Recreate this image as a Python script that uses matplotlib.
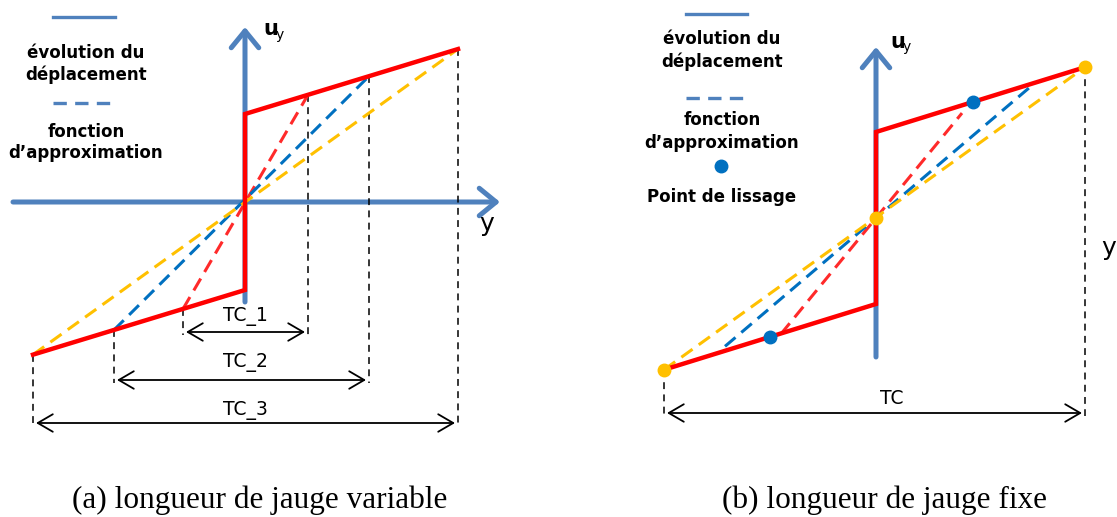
import matplotlib
matplotlib.use('Agg')
import matplotlib.pyplot as plt
import numpy as np

W, H = 1117, 517

# colours
axis_blue = '#4f81bd'
red = '#ff0000'
approx_colors = ['#ff2a2a', '#0070c0', '#ffc000']

# panel (a) : longueur de jauge variable
jump_a = 88            # saut de deplacement a la fissure
slope_a = 0.305        # pente des branches rouges
gauge_left_a = [62, 131, 212]
gauge_right_a = [63, 124, 213]
tc_levels_a = [-130, -178, -221]
tc_label_levels_a = [-115, -161, -208]
tc_labels_a = ['TC_1', 'TC_2', 'TC_3']

# panel (b) : longueur de jauge fixe
jump_b = 86
slope_b = 0.31
gauge_b = [-212, 209]
approx_slopes_b = [1.22, 0.85, None]
approx_ranges_b = [(-95, 86), (-151, 155), (-212, 209)]
fit_points_b = [-106, 97]
tc_level_b = -195

legend_a = ['évolution du', 'déplacement', 'fonction', 'd’approximation']
legend_b = ['évolution du', 'déplacement', 'fonction', 'd’approximation', 'Point de lissage']
captions = ['(a) longueur de jauge variable', '(b) longueur de jauge fixe']


def disp(x, jump, slope):
    x = np.asarray(x, dtype=float)
    return np.sign(x) * (jump + slope * np.abs(x))


fig = plt.figure(figsize=(W / 100, H / 100), dpi=100)

# base axes in pixel coordinates for legend and captions
base = fig.add_axes([0, 0, 1, 1])
base.set_xlim(0, W)
base.set_ylim(H, 0)
base.axis('off')


def panel_axes(ox, oy):
    ax = fig.add_axes([0, 0, 1, 1])
    ax.set_xlim(-ox, W - ox)
    ax.set_ylim(oy - H, oy)
    ax.axis('off')
    ax.patch.set_alpha(0)
    return ax


def draw_axes(ax, xr, yr):
    kw = dict(arrowstyle='->,head_length=0.55,head_width=0.45', color=axis_blue,
              lw=3.6, mutation_scale=22, shrinkA=0, shrinkB=0)
    ax.annotate('', xy=(xr[1], 0), xytext=(xr[0], 0), arrowprops=kw, zorder=1)
    ax.annotate('', xy=(0, yr[1]), xytext=(0, yr[0]), arrowprops=kw, zorder=1)


def black_dash(ax, x, y0, y1):
    ax.plot([x, x], [y0, y1], color='black', lw=1.1, dashes=(4.5, 3.5), zorder=2)


def dim_arrow(ax, x0, x1, y):
    ax.annotate('', xy=(x1, y), xytext=(x0, y),
                arrowprops=dict(arrowstyle='<->,head_length=0.6,head_width=0.35',
                                color='black', lw=1.3, mutation_scale=18,
                                shrinkA=0, shrinkB=0))


# ---------- panel (a)
ax = panel_axes(245, 202)
draw_axes(ax, (-232, 255), (-100, 175))
ax.plot([-212, 0, 0, 213], [disp(-212, jump_a, slope_a), -jump_a, jump_a, disp(213, jump_a, slope_a)],
        color=red, lw=3.2, solid_joinstyle='miter', zorder=4)
for gl, gr, c, lev, llev, lab in zip(gauge_left_a, gauge_right_a, approx_colors,
                                     tc_levels_a, tc_label_levels_a, tc_labels_a):
    ax.plot([-gl, gr], [disp(-gl, jump_a, slope_a), disp(gr, jump_a, slope_a)],
            color=c, lw=2.2, dashes=(4.5, 2.5), zorder=3)
    black_dash(ax, -gl, disp(-gl, jump_a, slope_a), lev - 3)
    black_dash(ax, gr, disp(gr, jump_a, slope_a), lev - 3)
    dim_arrow(ax, -gl + 3, gr - 3, lev)
    ax.text(0, llev, lab, ha='center', va='center', fontsize=13.5, family='DejaVu Sans')
ax.text(18, 173, 'u', fontsize=15, fontweight='bold', ha='left', va='center')
ax.text(31, 167, 'y', fontsize=10, ha='left', va='center')
ax.text(242, -22, 'y', fontsize=18, ha='center', va='center')

# ---------- panel (b)
ax = panel_axes(876, 218)
draw_axes(ax, (-232, 242), (-139, 171))
ax.plot([gauge_b[0], 0, 0, gauge_b[1]],
        [disp(gauge_b[0], jump_b, slope_b), -jump_b, jump_b, disp(gauge_b[1], jump_b, slope_b)],
        color=red, lw=3.2, solid_joinstyle='miter', zorder=4)
for s, (x0, x1), c in zip(approx_slopes_b, approx_ranges_b, approx_colors):
    if s is None:
        y0, y1 = disp(x0, jump_b, slope_b), disp(x1, jump_b, slope_b)
    else:
        y0, y1 = s * x0, s * x1
    ax.plot([x0, x1], [y0, y1], color=c, lw=2.2, dashes=(4.5, 2.5), zorder=3)
ax.plot(fit_points_b, disp(fit_points_b, jump_b, slope_b), 'o', color='#0070c0', ms=9, zorder=5)
ax.plot([gauge_b[0], 0, gauge_b[1]],
        [disp(gauge_b[0], jump_b, slope_b), 0, disp(gauge_b[1], jump_b, slope_b)],
        'o', color='#ffc000', ms=9, zorder=5)
for x in gauge_b:
    black_dash(ax, x, disp(x, jump_b, slope_b), tc_level_b - 3)
dim_arrow(ax, gauge_b[0] + 3, gauge_b[1] - 3, tc_level_b)
ax.text(16, tc_level_b + 14, 'TC', ha='center', va='center', fontsize=13.5)
ax.text(14, 176, 'u', fontsize=15, fontweight='bold', ha='left', va='center')
ax.text(27, 171, 'y', fontsize=10, ha='left', va='center')
ax.text(240, -30, 'y', fontsize=18, ha='right', va='center')

# ---------- legends
base.plot([53, 115], [17, 17], color=axis_blue, lw=2.4)
base.plot([53, 115], [103, 103], color=axis_blue, lw=2.4, dashes=(4, 2.5))
for t, yy in zip(legend_a, [53, 75, 132, 153]):
    base.text(86, yy, t, ha='center', va='center', fontsize=12, fontweight='bold')

base.plot([686, 747], [14, 14], color=axis_blue, lw=2.4)
base.plot([686, 747], [98, 98], color=axis_blue, lw=2.4, dashes=(4, 2.5))
base.plot([721], [166], 'o', color='#0070c0', ms=9)
for t, yy in zip(legend_b, [39, 62, 120, 143, 197]):
    base.text(722, yy, t, ha='center', va='center', fontsize=12, fontweight='bold')

# ---------- captions
for t, xx in zip(captions, [260, 884]):
    base.text(xx, 508, t, ha='center', va='baseline', fontsize=22.5, family='Liberation Serif')

fig.savefig('out.png', dpi=100)
